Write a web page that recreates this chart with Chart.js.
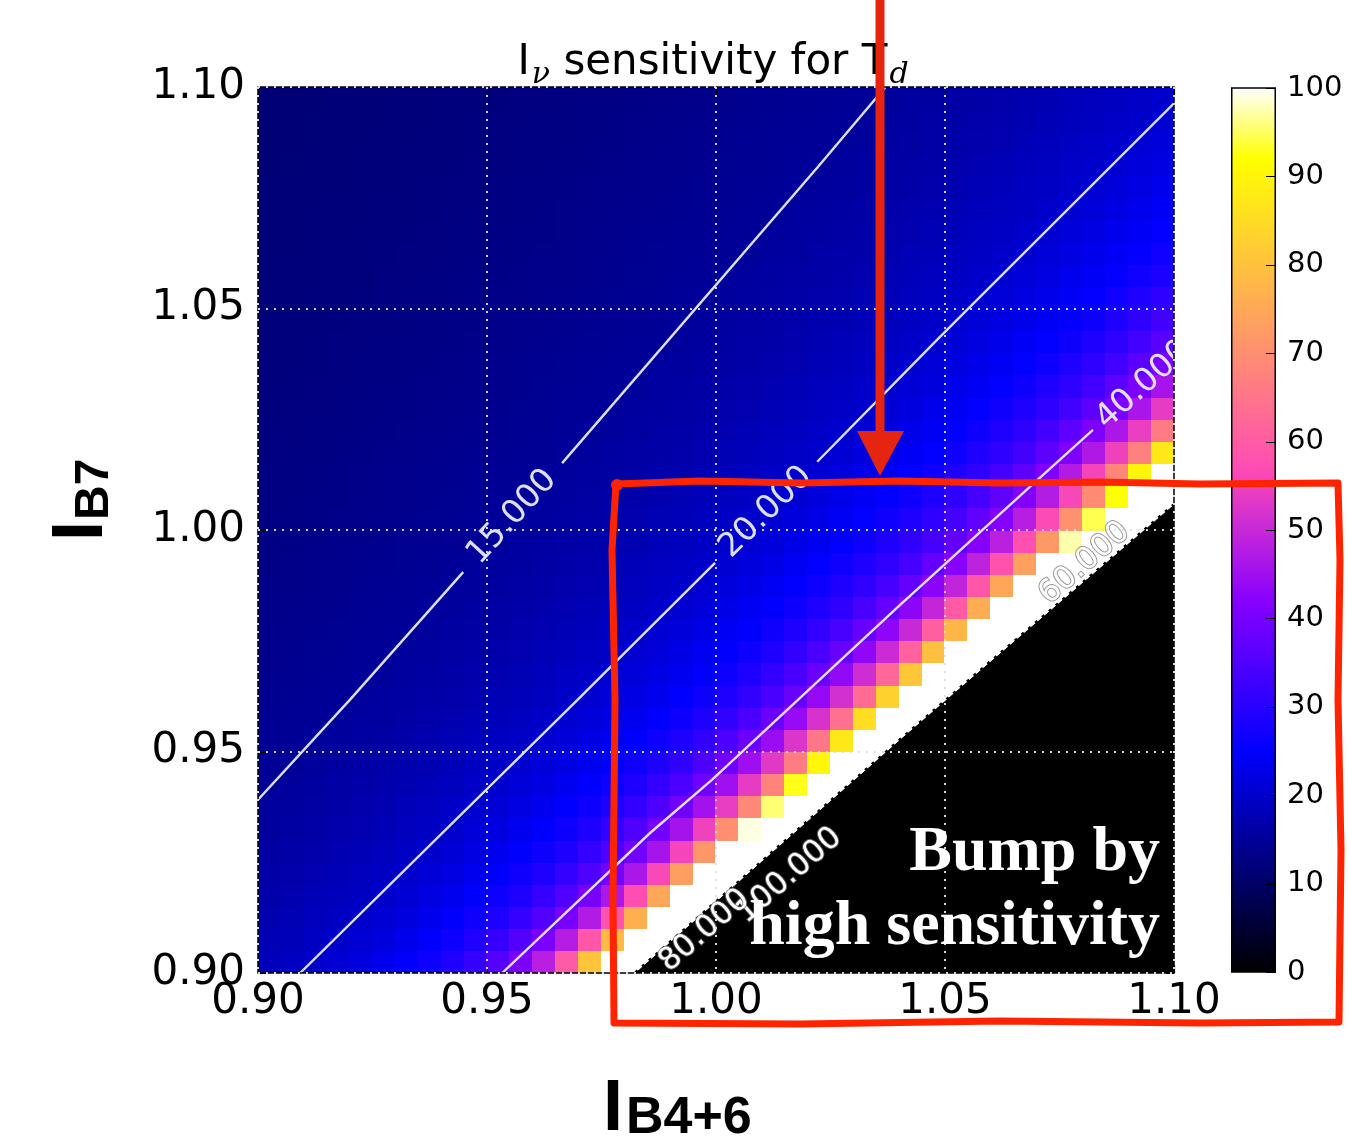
<!DOCTYPE html>
<html><head><meta charset="utf-8">
<script src="https://cdn.jsdelivr.net/npm/chart.js@4.4.1/dist/chart.umd.min.js"></script>
<style>
html,body{margin:0;padding:0;background:#fff;}
#wrap{position:relative;width:1348px;height:1143px;overflow:hidden;background:#fff;}
#cbar{position:absolute;left:1231px;top:0;z-index:1;}
#main{position:absolute;left:0;top:0;z-index:2;}
</style></head><body>
<div id="wrap"><canvas id="cbar" width="117" height="1143"></canvas><canvas id="main" width="1348" height="1143"></canvas></div>
<script>
// ---------- DATA ----------
// cell centres of the sensitivity map (I_B4+6 on x, I_B7 on y)
const xCenters = [0.9025,0.9075,0.9125,0.9175,0.9225,0.9275,0.9325,0.9375,0.9425,0.9475,
  0.9525,0.9575,0.9625,0.9675,0.9725,0.9775,0.9825,0.9875,0.9925,0.9975,
  1.0025,1.0075,1.0125,1.0175,1.0225,1.0275,1.0325,1.0375,1.0425,1.0475,
  1.0525,1.0575,1.0625,1.0675,1.0725,1.0775,1.0825,1.0875,1.0925,1.0975];
const yCenters = [0.9025,0.9075,0.9125,0.9175,0.9225,0.9275,0.9325,0.9375,0.9425,0.9475,
  0.9525,0.9575,0.9625,0.9675,0.9725,0.9775,0.9825,0.9875,0.9925,0.9975,
  1.0025,1.0075,1.0125,1.0175,1.0225,1.0275,1.0325,1.0375,1.0425,1.0475,
  1.0525,1.0575,1.0625,1.0675,1.0725,1.0775,1.0825,1.0875,1.0925,1.0975];
// sensitivity (%) per cell, rows from bottom (I_B7=0.9025) to top; 100 = saturated (>=100), 0 = below scale
const sensitivityRows = [
[18.2,19.0,19.8,20.8,21.9,23.2,24.7,26.6,28.9,31.8, 35.5,40.7,48.1,59.7,80.3,100,100,100,0,0, 0,0,0,0,0,0,0,0,0,0, 0,0,0,0,0,0,0,0,0,0],
[17.7,18.3,19.0,19.9,20.8,21.9,23.2,24.7,26.6,28.9, 31.7,35.4,40.5,47.7,58.9,78.4,100,100,100,0, 0,0,0,0,0,0,0,0,0,0, 0,0,0,0,0,0,0,0,0,0],
[17.1,17.7,18.4,19.1,19.9,20.9,21.9,23.2,24.7,26.6, 28.8,31.6,35.3,40.2,47.2,57.9,76.3,100,100,100, 0,0,0,0,0,0,0,0,0,0, 0,0,0,0,0,0,0,0,0,0],
[16.7,17.2,17.8,18.4,19.1,20.0,20.9,22.0,23.3,24.8, 26.6,28.8,31.6,35.2,40.0,46.8,57.1,74.7,100,100, 100,0,0,0,0,0,0,0,0,0, 0,0,0,0,0,0,0,0,0,0],
[16.3,16.7,17.3,17.8,18.5,19.2,20.0,21.0,22.0,23.3, 24.8,26.6,28.8,31.5,35.1,39.8,46.4,56.3,72.9,100, 100,100,0,0,0,0,0,0,0,0, 0,0,0,0,0,0,0,0,0,0],
[15.9,16.3,16.8,17.3,17.9,18.5,19.3,20.1,21.0,22.1, 23.3,24.8,26.6,28.8,31.5,35.0,39.6,46.0,55.6,71.4, 100,100,100,100,0,0,0,0,0,0, 0,0,0,0,0,0,0,0,0,0],
[15.6,15.9,16.4,16.9,17.4,17.9,18.6,19.3,20.1,21.1, 22.1,23.4,24.9,26.6,28.8,31.5,34.9,39.4,45.7,55.0, 70.1,99.1,100,100,100,0,0,0,0,0, 0,0,0,0,0,0,0,0,0,0],
[15.3,15.6,16.0,16.4,16.9,17.4,18.0,18.6,19.4,20.2, 21.1,22.2,23.4,24.9,26.6,28.8,31.4,34.8,39.2,45.3, 54.2,68.6,95.6,100,100,100,0,0,0,0, 0,0,0,0,0,0,0,0,0,0],
[15.0,15.3,15.7,16.1,16.5,17.0,17.5,18.1,18.7,19.4, 20.2,21.2,22.2,23.5,24.9,26.6,28.8,31.4,34.7,39.0, 45.0,53.7,67.4,92.8,100,100,100,0,0,0, 0,0,0,0,0,0,0,0,0,0],
[14.7,15.0,15.4,15.7,16.1,16.5,17.0,17.5,18.1,18.8, 19.5,20.3,21.2,22.3,23.5,24.9,26.7,28.8,31.3,34.6, 38.9,44.7,53.1,66.3,90.2,100,100,100,0,0, 0,0,0,0,0,0,0,0,0,0],
[14.5,14.8,15.1,15.4,15.8,16.2,16.6,17.1,17.6,18.2, 18.8,19.5,20.3,21.2,22.3,23.5,25.0,26.7,28.7,31.3, 34.5,38.6,44.3,52.5,65.1,87.5,100,100,100,0, 0,0,0,0,0,0,0,0,0,0],
[14.3,14.5,14.8,15.1,15.5,15.8,16.2,16.7,17.1,17.6, 18.2,18.9,19.6,20.4,21.3,22.3,23.6,25.0,26.7,28.7, 31.2,34.4,38.5,44.0,52.0,64.1,85.3,100,100,100, 0,0,0,0,0,0,0,0,0,0],
[14.1,14.3,14.6,14.9,15.2,15.5,15.9,16.3,16.7,17.2, 17.7,18.3,18.9,19.6,20.4,21.3,22.4,23.6,25.0,26.7, 28.7,31.2,34.3,38.3,43.7,51.4,63.1,83.0,100,100, 100,0,0,0,0,0,0,0,0,0],
[13.9,14.1,14.4,14.6,14.9,15.2,15.6,15.9,16.3,16.8, 17.2,17.7,18.3,19.0,19.7,20.5,21.4,22.4,23.6,25.0, 26.7,28.7,31.1,34.2,38.2,43.5,50.9,62.2,81.1,100, 100,100,0,0,0,0,0,0,0,0],
[13.7,13.9,14.2,14.4,14.7,15.0,15.3,15.6,16.0,16.4, 16.8,17.3,17.8,18.4,19.0,19.7,20.5,21.4,22.5,23.7, 25.1,26.7,28.7,31.1,34.1,38.0,43.2,50.5,61.3,79.4, 100,100,100,100,0,0,0,0,0,0],
[13.5,13.8,14.0,14.2,14.5,14.7,15.0,15.3,15.7,16.0, 16.4,16.9,17.3,17.9,18.4,19.1,19.8,20.6,21.5,22.5, 23.7,25.1,26.7,28.7,31.1,34.0,37.9,42.9,50.0,60.4, 77.6,100,100,100,100,0,0,0,0,0],
[13.4,13.6,13.8,14.0,14.3,14.5,14.8,15.1,15.4,15.7, 16.1,16.5,16.9,17.4,17.9,18.5,19.1,19.8,20.6,21.5, 22.5,23.7,25.1,26.7,28.7,31.0,34.0,37.7,42.7,49.5, 59.6,76.0,100,100,100,100,0,0,0,0],
[13.3,13.4,13.6,13.8,14.1,14.3,14.6,14.8,15.1,15.4, 15.8,16.1,16.5,17.0,17.4,17.9,18.5,19.2,19.9,20.7, 21.6,22.6,23.8,25.1,26.8,28.7,31.0,33.9,37.6,42.5, 49.1,58.9,74.6,100,100,100,100,0,0,0],
[13.1,13.3,13.5,13.7,13.9,14.1,14.4,14.6,14.9,15.2, 15.5,15.8,16.2,16.6,17.0,17.5,18.0,18.6,19.2,19.9, 20.7,21.6,22.6,23.8,25.2,26.8,28.7,31.0,33.8,37.4, 42.2,48.7,58.1,73.1,100,100,100,100,0,0],
[13.0,13.2,13.3,13.5,13.7,13.9,14.2,14.4,14.6,14.9, 15.2,15.5,15.9,16.2,16.6,17.1,17.5,18.0,18.6,19.3, 20.0,20.7,21.6,22.7,23.8,25.2,26.8,28.6,30.9,33.7, 37.3,42.0,48.3,57.5,71.8,97.4,100,100,100,0],
[12.9,13.0,13.2,13.4,13.6,13.8,14.0,14.2,14.4,14.7, 15.0,15.3,15.6,15.9,16.3,16.7,17.1,17.6,18.1,18.7, 19.3,20.0,20.8,21.7,22.7,23.8,25.2,26.8,28.6,30.9, 33.7,37.2,41.7,47.9,56.7,70.4,94.5,100,100,100],
[12.8,12.9,13.1,13.2,13.4,13.6,13.8,14.0,14.2,14.5, 14.7,15.0,15.3,15.6,16.0,16.3,16.7,17.2,17.6,18.1, 18.7,19.3,20.0,20.8,21.7,22.7,23.9,25.2,26.8,28.6, 30.9,33.6,37.0,41.5,47.5,56.1,69.3,92.1,100,100],
[12.7,12.8,13.0,13.1,13.3,13.5,13.7,13.9,14.1,14.3, 14.5,14.8,15.1,15.4,15.7,16.0,16.4,16.8,17.2,17.7, 18.2,18.8,19.4,20.1,20.9,21.8,22.8,23.9,25.2,26.8, 28.6,30.8,33.5,36.9,41.3,47.2,55.6,68.2,89.8,100],
[12.6,12.7,12.8,13.0,13.2,13.3,13.5,13.7,13.9,14.1, 14.3,14.6,14.8,15.1,15.4,15.7,16.1,16.4,16.8,17.3, 17.7,18.2,18.8,19.4,20.1,20.9,21.8,22.8,23.9,25.3, 26.8,28.6,30.8,33.5,36.8,41.1,46.9,54.9,67.1,87.5],
[12.5,12.6,12.7,12.9,13.0,13.2,13.4,13.5,13.7,13.9, 14.1,14.4,14.6,14.9,15.1,15.4,15.8,16.1,16.5,16.9, 17.3,17.8,18.3,18.9,19.5,20.2,21.0,21.8,22.8,24.0, 25.3,26.8,28.6,30.8,33.4,36.7,40.9,46.5,54.4,66.1],
[12.4,12.5,12.6,12.8,12.9,13.1,13.2,13.4,13.6,13.8, 14.0,14.2,14.4,14.7,14.9,15.2,15.5,15.8,16.1,16.5, 16.9,17.3,17.8,18.3,18.9,19.5,20.2,21.0,21.9,22.9, 24.0,25.3,26.8,28.6,30.7,33.3,36.6,40.7,46.2,53.8],
[12.3,12.4,12.5,12.7,12.8,13.0,13.1,13.3,13.4,13.6, 13.8,14.0,14.2,14.5,14.7,15.0,15.2,15.5,15.9,16.2, 16.6,17.0,17.4,17.9,18.4,18.9,19.6,20.3,21.0,21.9, 22.9,24.0,25.3,26.8,28.6,30.7,33.3,36.5,40.5,45.9],
[12.2,12.3,12.4,12.6,12.7,12.8,13.0,13.1,13.3,13.5, 13.7,13.9,14.1,14.3,14.5,14.7,15.0,15.3,15.6,15.9, 16.2,16.6,17.0,17.4,17.9,18.4,19.0,19.6,20.3,21.1, 22.0,22.9,24.0,25.3,26.8,28.6,30.7,33.2,36.4,40.4],
[12.1,12.2,12.4,12.5,12.6,12.7,12.9,13.0,13.2,13.4, 13.5,13.7,13.9,14.1,14.3,14.5,14.8,15.0,15.3,15.6, 15.9,16.3,16.6,17.0,17.5,18.0,18.5,19.0,19.7,20.3, 21.1,22.0,23.0,24.1,25.3,26.8,28.6,30.6,33.1,36.2],
[12.1,12.2,12.3,12.4,12.5,12.6,12.8,12.9,13.1,13.2, 13.4,13.6,13.7,13.9,14.1,14.4,14.6,14.8,15.1,15.4, 15.7,16.0,16.3,16.7,17.1,17.5,18.0,18.5,19.1,19.7, 20.4,21.2,22.0,23.0,24.1,25.4,26.8,28.6,30.6,33.1],
[12.0,12.1,12.2,12.3,12.4,12.6,12.7,12.8,13.0,13.1, 13.3,13.4,13.6,13.8,14.0,14.2,14.4,14.6,14.9,15.1, 15.4,15.7,16.0,16.4,16.7,17.1,17.6,18.0,18.6,19.1, 19.7,20.4,21.2,22.1,23.0,24.1,25.4,26.9,28.6,30.6],
[11.9,12.0,12.1,12.2,12.3,12.5,12.6,12.7,12.9,13.0, 13.1,13.3,13.5,13.6,13.8,14.0,14.2,14.4,14.7,14.9, 15.2,15.5,15.8,16.1,16.4,16.8,17.2,17.6,18.1,18.6, 19.2,19.8,20.5,21.2,22.1,23.1,24.2,25.4,26.9,28.5],
[11.8,11.9,12.0,12.2,12.3,12.4,12.5,12.6,12.8,12.9, 13.0,13.2,13.3,13.5,13.7,13.9,14.1,14.3,14.5,14.7, 15.0,15.2,15.5,15.8,16.1,16.5,16.8,17.2,17.7,18.1, 18.6,19.2,19.8,20.5,21.3,22.1,23.1,24.2,25.4,26.9],
[11.8,11.9,12.0,12.1,12.2,12.3,12.4,12.5,12.7,12.8, 12.9,13.1,13.2,13.4,13.5,13.7,13.9,14.1,14.3,14.5, 14.8,15.0,15.3,15.5,15.8,16.2,16.5,16.9,17.3,17.7, 18.2,18.7,19.3,19.9,20.6,21.3,22.2,23.1,24.2,25.4],
[11.7,11.8,11.9,12.0,12.1,12.2,12.3,12.4,12.6,12.7, 12.8,13.0,13.1,13.3,13.4,13.6,13.8,13.9,14.1,14.3, 14.6,14.8,15.0,15.3,15.6,15.9,16.2,16.5,16.9,17.3, 17.7,18.2,18.7,19.3,19.9,20.6,21.3,22.2,23.1,24.2],
[11.7,11.8,11.8,11.9,12.0,12.1,12.2,12.4,12.5,12.6, 12.7,12.9,13.0,13.1,13.3,13.5,13.6,13.8,14.0,14.2, 14.4,14.6,14.8,15.1,15.3,15.6,15.9,16.2,16.6,17.0, 17.4,17.8,18.3,18.8,19.3,19.9,20.6,21.4,22.2,23.2],
[11.6,11.7,11.8,11.9,12.0,12.1,12.2,12.3,12.4,12.5, 12.6,12.8,12.9,13.0,13.2,13.3,13.5,13.7,13.8,14.0, 14.2,14.4,14.6,14.9,15.1,15.4,15.7,16.0,16.3,16.6, 17.0,17.4,17.8,18.3,18.8,19.4,20.0,20.7,21.4,22.3],
[11.6,11.6,11.7,11.8,11.9,12.0,12.1,12.2,12.3,12.4, 12.5,12.7,12.8,12.9,13.1,13.2,13.4,13.5,13.7,13.9, 14.1,14.3,14.5,14.7,14.9,15.2,15.4,15.7,16.0,16.3, 16.7,17.0,17.4,17.9,18.3,18.9,19.4,20.0,20.7,21.5],
[11.5,11.6,11.7,11.8,11.8,11.9,12.0,12.1,12.2,12.4, 12.5,12.6,12.7,12.8,13.0,13.1,13.3,13.4,13.6,13.7, 13.9,14.1,14.3,14.5,14.7,15.0,15.2,15.5,15.7,16.1, 16.4,16.7,17.1,17.5,17.9,18.4,18.9,19.5,20.1,20.7],
[11.5,11.5,11.6,11.7,11.8,11.9,12.0,12.1,12.2,12.3, 12.4,12.5,12.6,12.7,12.9,13.0,13.1,13.3,13.4,13.6, 13.8,13.9,14.1,14.3,14.5,14.8,15.0,15.2,15.5,15.8, 16.1,16.4,16.8,17.1,17.5,18.0,18.4,18.9,19.5,20.1]
];
// contour lines ([I_B4+6, I_B7] points), split where the labels sit
const contour15a = [[0.9000,0.9391],[0.9201,0.9617],[0.9448,0.9905]];
const contour15b = [[0.9664,1.0151],[1.0227,1.0825],[1.0370,1.1000]];
const contour20a = [[0.9092,0.9000],[0.9697,0.9616],[0.9998,0.9926]];
const contour20b = [[1.0221,1.0154],[1.0489,1.0436],[1.1000,1.0963]];
const contour40  = [[0.9533,0.9000],[0.9856,0.9316],[0.9991,0.9436],[1.0402,0.9831],[1.0690,1.0102],[1.0823,1.0226]];
// edge of the diverging region (sensitivity below scale to the lower right)
const divergenceEdge = [[0.9825,0.9000],[1.0405,0.9528],[1.0600,0.9702],[1.1000,1.0056]];
// axis ticks
const xTicks = [0.90,0.95,1.00,1.05,1.10];
const yTicks = [0.90,0.95,1.00,1.05,1.10];
const cbTicks = [0,10,20,30,40,50,60,70,80,90,100];

// ---------- helpers ----------
function gnuplot2(t){
  t = Math.max(0, Math.min(1, t));
  const c = v => Math.round(255*Math.max(0, Math.min(1, v)));
  const r = t/0.32 - 0.78125, g = 2*t - 0.84;
  const b = t < 0.25 ? 4*t : (t < 0.92 ? -2*t + 1.84 : t/0.08 - 11.5);
  return 'rgb(' + c(r) + ',' + c(g) + ',' + c(b) + ')';
}
const pts = arr => arr.map(p => ({x:p[0], y:p[1]}));
const LINE_COL = 'rgba(235,235,255,0.95)';

const heatPlugin = {
  id:'heat',
  beforeDatasetsDraw(chart){
    const {ctx, chartArea:a, scales:{x, y}} = chart;
    const hx = (xCenters[1]-xCenters[0])/2, hy = (yCenters[1]-yCenters[0])/2;
    ctx.save();
    ctx.beginPath(); ctx.rect(a.left, a.top, a.right-a.left, a.bottom-a.top); ctx.clip();
    sensitivityRows.forEach((row, j) => {
      row.forEach((v, i) => {
        const x0 = Math.floor(x.getPixelForValue(xCenters[i]-hx)), x1 = Math.ceil(x.getPixelForValue(xCenters[i]+hx));
        const y0 = Math.floor(y.getPixelForValue(yCenters[j]+hy)), y1 = Math.ceil(y.getPixelForValue(yCenters[j]-hy));
        ctx.fillStyle = gnuplot2(v/100);
        ctx.fillRect(x0, y0, x1-x0, y1-y0);
      });
    });
    ctx.restore();
  }
};

const contourLabels = [
  {text:'15.000', x:0.9555, y:1.0029, angle:-47.5, align:'center'},
  {text:'20.000', x:1.0109, y:1.0040, angle:-44.5, align:'center'},
  {text:'40.000', x:1.0840, y:1.0240, angle:-42, align:'left'}
];
const edgeLabels = [
  {text:'60.000', x:1.0805, y:0.9925, angle:-41},
  {text:'100.000', x:1.0160, y:0.9220, angle:-41},
  {text:'80.000', x:0.9975, y:0.9095, angle:-41}
];

const labelPlugin = {
  id:'labels',
  afterDatasetsDraw(chart){
    const {ctx, chartArea:a, scales:{x, y}} = chart;
    ctx.save();
    ctx.beginPath(); ctx.rect(a.left, a.top, a.right-a.left, a.bottom-a.top); ctx.clip();
    ctx.font = '33px "DejaVu Sans"';
    ctx.textBaseline = 'middle';
    contourLabels.forEach(l => {
      ctx.save();
      ctx.translate(x.getPixelForValue(l.x), y.getPixelForValue(l.y));
      ctx.rotate(l.angle*Math.PI/180);
      ctx.textAlign = l.align;
      ctx.fillStyle = LINE_COL;
      ctx.fillText(l.text, 0, 0);
      ctx.restore();
    });
    ctx.font = '31px "DejaVu Sans"';
    edgeLabels.forEach(l => {
      ctx.save();
      ctx.translate(x.getPixelForValue(l.x), y.getPixelForValue(l.y));
      ctx.rotate(l.angle*Math.PI/180);
      ctx.textAlign = 'center';
      ctx.lineWidth = 2; ctx.strokeStyle = 'rgba(110,110,110,0.7)';
      ctx.strokeText(l.text, 0, 0);
      ctx.fillStyle = '#fff';
      ctx.fillText(l.text, 0, 0);
      ctx.restore();
    });
    ctx.restore();
    // axes frame and inward ticks
    ctx.save();
    ctx.strokeStyle = '#000'; ctx.lineWidth = 1.5;
    ctx.strokeRect(a.left, a.top, a.right-a.left, a.bottom-a.top);
    ctx.lineWidth = 1.2;
    xTicks.forEach(v => { const px = Math.round(x.getPixelForValue(v))+0.5;
      ctx.beginPath(); ctx.moveTo(px, a.bottom); ctx.lineTo(px, a.bottom-8); ctx.moveTo(px, a.top); ctx.lineTo(px, a.top+8); ctx.stroke(); });
    yTicks.forEach(v => { const py = Math.round(y.getPixelForValue(v))+0.5;
      ctx.beginPath(); ctx.moveTo(a.left, py); ctx.lineTo(a.left+8, py); ctx.moveTo(a.right, py); ctx.lineTo(a.right-8, py); ctx.stroke(); });
    ctx.restore();
  }
};

const overlayPlugin = {
  id:'overlay',
  afterDraw(chart){
    const ctx = chart.ctx;
    const a = chart.chartArea;
    ctx.save();
    // title  I_nu sensitivity for T_d
    const parts = [
      {t:'I', f:'42px "DejaVu Sans"', dy:0},
      {t:'\u03BD', f:'italic 30px "DejaVu Serif"', dy:9, gap:2},
      {t:' sensitivity for T', f:'42px "DejaVu Sans"', dy:0},
      {t:'d', f:'italic 30px "DejaVu Serif"', dy:9, gap:2}
    ];
    let tot = 0;
    parts.forEach(p => { ctx.font = p.f; p.w = ctx.measureText(p.t).width; tot += p.w + (p.gap||0); });
    let tx = (a.left + a.right)/2 - tot/2 - 3;
    ctx.fillStyle = '#000'; ctx.textBaseline = 'alphabetic'; ctx.textAlign = 'left';
    parts.forEach(p => { ctx.font = p.f; tx += (p.gap||0); ctx.fillText(p.t, tx, 74 + p.dy); tx += p.w; });

    // x axis title  I_B4+6
    ctx.font = 'bold 72px "Liberation Sans"';
    ctx.fillText('I', 603, 1130);
    ctx.font = 'bold 52px "Liberation Sans"';
    ctx.fillText('B4+6', 626, 1133);
    // y axis title  I_B7 (rotated)
    ctx.save();
    ctx.translate(102, 541);
    ctx.rotate(-Math.PI/2);
    ctx.font = 'bold 72px "Liberation Sans"';
    ctx.fillText('I', 0, 0);
    ctx.font = 'bold 48px "Liberation Sans"';
    ctx.fillText('B7', 21, 6);
    ctx.restore();

    // annotation text
    ctx.fillStyle = '#fff';
    ctx.font = 'bold 64px "Liberation Serif"';
    ctx.textAlign = 'right';
    ctx.fillText('Bump by', 1160, 870);
    ctx.fillText('high sensitivity', 1160, 944);

    // red arrow
    ctx.strokeStyle = '#e5250f'; ctx.lineWidth = 9; ctx.lineCap = 'butt';
    ctx.beginPath(); ctx.moveTo(880, 0); ctx.lineTo(880, 440); ctx.stroke();
    ctx.fillStyle = '#e5250f';
    ctx.beginPath(); ctx.moveTo(857, 431); ctx.lineTo(904, 431); ctx.lineTo(880, 476); ctx.closePath(); ctx.fill();

    // red hand-drawn box
    ctx.strokeStyle = '#ff2400'; ctx.lineWidth = 7; ctx.lineJoin = 'round'; ctx.lineCap = 'round';
    const box = [[616,484],[700,481],[800,483],[900,481],[1000,483],[1100,482],[1200,484],[1338,483],
      [1340,560],[1338,700],[1341,850],[1339,1022],[1200,1023],[1000,1021],[800,1024],[614,1023],
      [613,900],[615,700],[612,550],[616,484]];
    ctx.beginPath(); box.forEach((p, k) => k ? ctx.lineTo(p[0], p[1]) : ctx.moveTo(p[0], p[1])); ctx.stroke();
    ctx.fillStyle = '#ff2400';
    ctx.beginPath(); ctx.arc(617, 485, 6, 0, Math.PI*2); ctx.fill();
    ctx.restore();
  }
};

// ---------- main chart ----------
const lineDs = (arr, extra) => Object.assign({data: pts(arr), showLine:true, pointRadius:0, borderColor:LINE_COL, borderWidth:2.4, fill:false, tension:0}, extra||{});
new Chart(document.getElementById('main'), {
  type:'scatter',
  data:{datasets:[
    lineDs(divergenceEdge, {fill:'start', backgroundColor:'#000', borderColor:'#000', borderWidth:1}),
    lineDs(divergenceEdge, {borderColor:'#000', borderWidth:4, borderDash:[3,6]}),
    lineDs(contour15a), lineDs(contour15b),
    lineDs(contour20a), lineDs(contour20b),
    lineDs(contour40)
  ]},
  options:{
    responsive:false, animation:false, devicePixelRatio:1,
    layout:{padding:{left:0, top:87, right:174, bottom:0}},
    plugins:{legend:{display:false}, tooltip:{enabled:false}, title:{display:false}},
    scales:{
      x:{type:'linear', min:0.9, max:1.1,
        afterBuildTicks(s){ s.ticks = xTicks.map(v => ({value:v})); },
        ticks:{callback:v => v.toFixed(2), font:{family:'DejaVu Sans', size:42}, color:'#000', padding:4, maxRotation:0, autoSkip:false},
        grid:{color:'rgba(222,222,232,0.95)', lineWidth:2, drawTicks:false, z:1},
        border:{display:false, dash:[2,6]},
        afterFit(s){ s.height = 170; }},
      y:{type:'linear', min:0.9, max:1.1,
        afterBuildTicks(s){ s.ticks = yTicks.map(v => ({value:v})); },
        ticks:{callback:v => v.toFixed(2), font:{family:'DejaVu Sans', size:42}, color:'#000', padding:13, autoSkip:false},
        grid:{color:'rgba(222,222,232,0.95)', lineWidth:2, drawTicks:false, z:1},
        border:{display:false, dash:[2,6]},
        afterFit(s){ s.width = 258; }}
    }
  },
  plugins:[heatPlugin, labelPlugin, overlayPlugin]
});

// ---------- colour bar ----------
const cbStops = [0, 0.25, 0.42, 0.57, 0.92, 1];
const cbFrame = {
  id:'cbframe',
  afterDraw(chart){
    const {ctx, chartArea:a, scales:{y}} = chart;
    ctx.save();
    ctx.strokeStyle = '#000'; ctx.lineWidth = 1.5;
    ctx.strokeRect(a.left+0.75, a.top, a.right-a.left-1.5, a.bottom-a.top);
    ctx.lineWidth = 1;
    cbTicks.forEach(v => { const py = Math.round(y.getPixelForValue(v))+0.5; ctx.beginPath(); ctx.moveTo(a.right-10, py); ctx.lineTo(a.right, py); ctx.stroke(); });
    ctx.restore();
  }
};
new Chart(document.getElementById('cbar'), {
  type:'bar',
  data:{labels:[''], datasets:[{
    data:[cbTicks[cbTicks.length-1]],
    backgroundColor(c){
      const a = c.chart.chartArea; if (!a) return '#000';
      const g = c.chart.ctx.createLinearGradient(0, a.bottom, 0, a.top);
      cbStops.forEach(s => g.addColorStop(s, gnuplot2(s)));
      return g;
    },
    borderWidth:0, barPercentage:1, categoryPercentage:1
  }]},
  options:{
    responsive:false, animation:false, devicePixelRatio:1,
    layout:{padding:{left:0, right:0, top:88, bottom:171}},
    plugins:{legend:{display:false}, tooltip:{enabled:false}},
    scales:{
      x:{display:false},
      y:{position:'right', min:0, max:100,
        afterBuildTicks(s){ s.ticks = cbTicks.map(v => ({value:v})); },
        ticks:{font:{family:'DejaVu Sans', size:29}, color:'#000', padding:11},
        grid:{display:false, drawTicks:false}, border:{display:false},
        afterFit(s){ s.width = 72; }}
    }
  },
  plugins:[cbFrame]
});
</script>
</body></html>
